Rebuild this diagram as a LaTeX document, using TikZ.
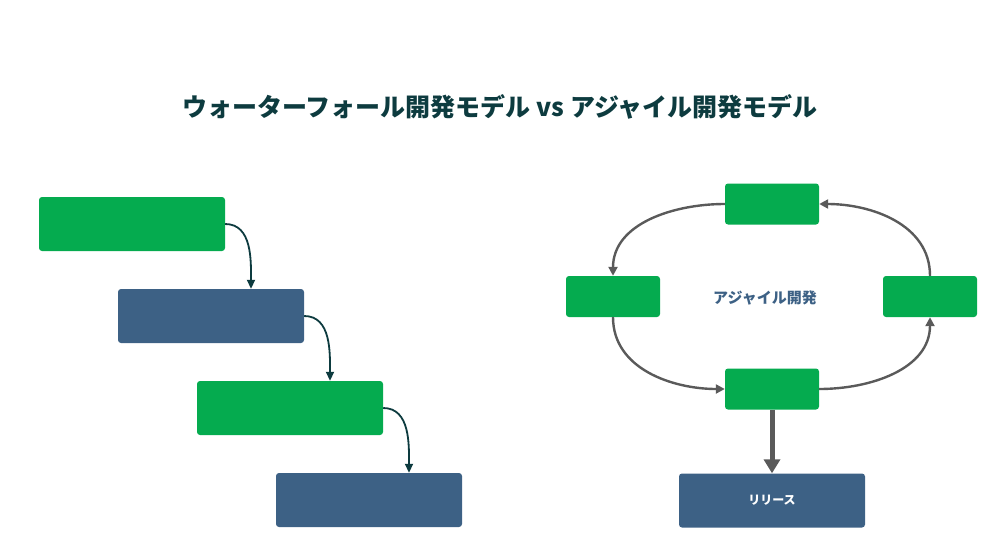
\documentclass[tikz,border=0pt]{standalone}
\usepackage{fontspec}
\setmainfont{Noto Sans CJK JP}
\usetikzlibrary{arrows.meta}
\definecolor{gr}{HTML}{05AB4F}
\definecolor{bl}{HTML}{3D6185}
\definecolor{ttl}{HTML}{0D3B3F}
\definecolor{ag}{HTML}{5A5A5A}
\begin{document}
\begin{tikzpicture}[x=1pt,y=-1pt,
  box/.style={rounded corners=3pt,minimum width=186pt,minimum height=54pt,inner sep=0},
  sbox/.style={rounded corners=3pt,minimum width=94pt,minimum height=41pt,inner sep=0,fill=gr},
  wf/.style={draw=ttl,line width=1.8pt,-{Triangle[length=9pt,width=8pt]}},
  ac/.style={draw=ag,line width=2.4pt,-{Triangle[length=9pt,width=9pt]}}]
\useasboundingbox (0,0) rectangle (1003,554);
\node[font=\bfseries\fontsize{25}{30}\selectfont,text=ttl] (title) at (500,107) {ウォーターフォール開発モデル vs アジャイル開発モデル};
\node[box,fill=gr] (w1) at (132,224) {};
\node[box,fill=bl] (w2) at (211,316) {};
\node[box,fill=gr] (w3) at (290,408) {};
\node[box,fill=bl] (w4) at (369,500) {};
\draw[wf] (w1.east) to[out=0,in=90] ([xshift=40pt]w2.north);
\draw[wf] (w2.east) to[out=0,in=90] ([xshift=40pt]w3.north);
\draw[wf] (w3.east) to[out=0,in=90] ([xshift=40pt]w4.north);
\node[sbox] (top) at (772,204) {};
\node[sbox] (lft) at (613,296.5) {};
\node[sbox] (rgt) at (930,296.5) {};
\node[sbox] (bot) at (772,389) {};
\node[box,fill=bl] (rel) at (772,500.5) {\bfseries\fontsize{12}{14}\selectfont\color{white}リリース};
\node[font=\bfseries\fontsize{15}{18}\selectfont,text=bl] (lab) at (765,298) {アジャイル開発};
\draw[ac] (top.west) to[out=180,in=90] (lft.north);
\draw[ac] (lft.south) to[out=270,in=180] (bot.west);
\draw[ac] (bot.east) to[out=0,in=270] (rgt.south);
\draw[ac] (rgt.north) to[out=90,in=0] (top.east);
\draw[draw=ag,line width=5pt,-{Triangle[length=14pt,width=16pt]}] (bot.south) -- (rel.north);
\end{tikzpicture}
\end{document}
